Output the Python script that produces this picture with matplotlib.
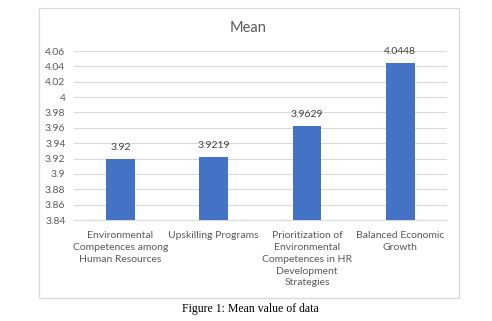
import matplotlib.pyplot as plt
from matplotlib.patches import Rectangle

categories = [
    "Environmental\nCompetences among\nHuman Resources",
    "Upskilling Programs",
    "Prioritization of\nEnvironmental\nCompetences in HR\nDevelopment\nStrategies",
    "Balanced Economic\nGrowth",
]
means = [3.92, 3.9219, 3.9629, 4.0448]
value_labels = ["3.92", "3.9219", "3.9629", "4.0448"]
yticks = [3.84, 3.86, 3.88, 3.9, 3.92, 3.94, 3.96, 3.98, 4.0, 4.02, 4.04, 4.06]
ytick_labels = ["3.84", "3.86", "3.88", "3.9", "3.92", "3.94", "3.96", "3.98", "4", "4.02", "4.04", "4.06"]

plt.rcParams['font.family'] = ['Lato', 'DejaVu Sans']
txt = "#595959"

fig = plt.figure(figsize=(4.92, 3.21), dpi=100)
fig.patches.append(Rectangle((0.080, 0.0717), 0.853, 0.903, transform=fig.transFigure,
                             fill=False, edgecolor="#d9d9d9", linewidth=0.9))

ax = fig.add_axes([0.150, 0.3146, 0.7585, 0.5264])
x = range(len(categories))
ax.bar(x, [m - 3.84 for m in means], bottom=3.84, width=0.31, color="#4472c4", zorder=3)
for i, (m, lab) in enumerate(zip(means, value_labels)):
    ax.annotate(lab, (i, m), xytext=(0, 5), textcoords="offset points",
                ha="center", va="bottom", fontsize=7.5, color="#404040")

ax.set_xlim(-0.5, len(categories) - 0.5)
ax.set_ylim(3.84, 4.06)
ax.set_yticks(yticks)
ax.set_yticklabels(ytick_labels)
ax.set_xticks(list(x))
ax.set_xticklabels(categories, linespacing=1.4)
ax.tick_params(axis="both", length=0, labelsize=7.5, labelcolor=txt)
ax.tick_params(axis="x", pad=8)
ax.tick_params(axis="y", pad=6)
ax.grid(axis="y", color="#d9d9d9", linewidth=0.8, zorder=0)
for s in ["top", "right", "left"]:
    ax.spines[s].set_visible(False)
ax.spines["bottom"].set_color("#d9d9d9")
ax.spines["bottom"].set_linewidth(0.8)

fig.text(0.505, 0.913, "Mean", ha="center", va="center", fontsize=10.5, color=txt)
fig.text(0.508, 0.037, "Figure 1: Mean value of data", ha="center", va="center",
         fontsize=8.5, family="Liberation Serif", color="black")

fig.savefig("out.png", dpi=100)
